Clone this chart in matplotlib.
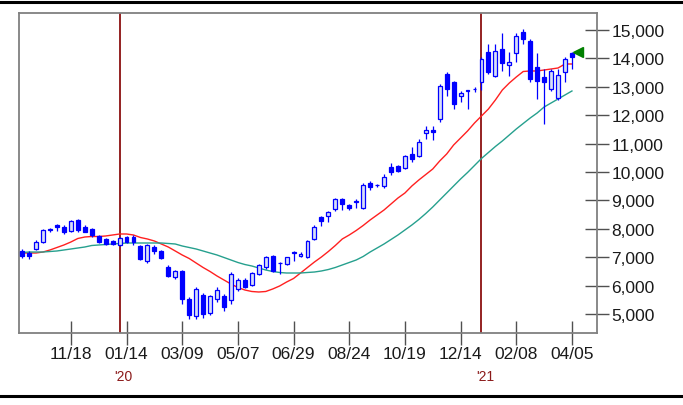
import matplotlib.pyplot as plt
from matplotlib.patches import Rectangle
from matplotlib.lines import Line2D
import numpy as np
import pandas as pd

# Weekly bars (week starting on Monday)
weeks = pd.date_range("2019-09-30", periods=80, freq="W-MON")

opens = [7200, 7150, 7290, 7530, 7950, 8150, 8060, 7920, 8300, 8050,
         7990, 7750, 7640, 7570, 7430, 7710, 7710, 7390, 6870, 7360,
         7220, 6640, 6290, 6520, 5530, 4930, 5670, 5030, 5530, 5630,
         5500, 5880, 6200, 6020, 6400, 6650, 7050, 6780, 6760, 7130,
         7050, 7000, 7640, 8410, 8440, 8700, 9050, 8840, 8950, 8720,
         9610, 9530, 9520, 10160, 10210, 10140, 10630, 10570, 11380, 11470,
         11860, 13450, 13160, 12660, 12860, 12910, 13160, 14210, 13380, 14330,
         13750, 14190, 14930, 14620, 13700, 13340, 12920, 12600, 13520, 14200]
highs = [7290, 7220, 7600, 8000, 8020, 8170, 8130, 8300, 8350, 8130,
         8030, 7780, 7680, 7600, 7700, 7740, 7780, 7430, 7460, 7430,
         7260, 6720, 6560, 6560, 5600, 5950, 5740, 5670, 5950, 5700,
         6480, 6260, 6250, 6480, 6760, 7050, 7070, 6830, 7020, 7230,
         7190, 7600, 8130, 8460, 8640, 9100, 9100, 8880, 9050, 9600,
         9690, 9580, 9930, 10330, 10260, 10600, 10880, 11160, 11630, 11630,
         13100, 13520, 13200, 12860, 12900, 12990, 14050, 14500, 14500, 14890,
         14210, 14890, 15030, 14680, 14200, 13620, 13620, 13620, 14050, 14220]
lows = [6970, 6950, 7250, 7500, 7870, 7930, 7820, 7880, 7900, 7870,
        7710, 7500, 7430, 7430, 7400, 7500, 7430, 6900, 6800, 7110,
        6940, 6300, 6230, 5350, 4820, 4820, 4860, 4960, 5420, 5100,
        5350, 5820, 5900, 5990, 6380, 6600, 6480, 6410, 6740, 6880,
        7000, 6970, 7600, 8110, 8240, 8640, 8660, 8670, 8730, 8690,
        9370, 9480, 9450, 9880, 9990, 10100, 10340, 10530, 11160, 11110,
        11760, 12670, 12220, 12460, 12220, 12810, 12900, 13450, 13340, 13560,
        13390, 13870, 14500, 13170, 12570, 11690, 12850, 12530, 13170, 13620]
closes = [7050, 7050, 7530, 7960, 7980, 8050, 7880, 8270, 7950, 7900,
          7780, 7530, 7460, 7470, 7680, 7530, 7530, 6940, 7430, 7220,
          6970, 6350, 6520, 5530, 4970, 5880, 5000, 5630, 5850, 5250,
          6400, 6200, 5950, 6440, 6720, 7000, 6510, 6800, 7000, 7180,
          7100, 7580, 8060, 8280, 8590, 9050, 8870, 8740, 8990, 9550,
          9460, 9550, 9810, 9990, 10030, 10560, 10460, 11040, 11480, 11420,
          13030, 12920, 12390, 12780, 12880, 12930, 13980, 13510, 14260, 13840,
          13870, 14790, 14680, 13270, 13200, 13170, 13550, 13410, 13980, 14050]

# 13-week and 26-week moving averages
ma13 = [7147, 7147, 7147, 7182, 7253, 7341, 7429, 7534, 7658, 7710,
        7728, 7728, 7746, 7781, 7816, 7816, 7781, 7693, 7640, 7570,
        7464, 7358, 7218, 7077, 6954, 6795, 6637, 6496, 6338, 6197,
        6056, 5933, 5845, 5792, 5774, 5792, 5880, 5986, 6126, 6250,
        6443, 6637, 6830, 7006, 7200, 7411, 7640, 7781, 7939, 8115,
        8309, 8485, 8661, 8872, 9083, 9259, 9506, 9717, 9910, 10104,
        10386, 10632, 10949, 11195, 11442, 11723, 11970, 12216, 12533, 12885,
        13131, 13342, 13536, 13554, 13554, 13589, 13624, 13659, 13800, 13800]
ma26 = [7165, 7182, 7182, 7182, 7200, 7218, 7253, 7288, 7323, 7358,
        7411, 7429, 7446, 7464, 7482, 7499, 7499, 7499, 7499, 7499,
        7499, 7482, 7464, 7394, 7341, 7288, 7218, 7147, 7077, 6989,
        6901, 6813, 6742, 6690, 6619, 6549, 6496, 6461, 6443, 6443,
        6443, 6461, 6478, 6514, 6566, 6637, 6725, 6813, 6901, 7024,
        7182, 7323, 7464, 7622, 7781, 7957, 8133, 8326, 8538, 8766,
        9013, 9259, 9506, 9752, 9981, 10227, 10474, 10685, 10896, 11090,
        11301, 11512, 11706, 11899, 12075, 12286, 12427, 12568, 12709, 12850]
last_price = 14220

tick_dates = ["2019-11-18", "2020-01-14", "2020-03-09", "2020-05-07", "2020-06-29",
              "2020-08-24", "2020-10-19", "2020-12-14", "2021-02-08", "2021-04-05"]
tick_labels = ["11/18", "01/14", "03/09", "05/07", "06/29",
               "08/24", "10/19", "12/14", "02/08", "04/05"]
y_ticks = np.arange(5000, 15001, 1000)

BLUE = "#0000ff"
HOLLOW = "#d8e0f6"

fig = plt.figure(figsize=(6.83, 4.06), dpi=100)
ax = fig.add_axes([19 / 683, 1 - 334 / 406, 578 / 683, 320 / 406])

x = np.arange(len(weeks))

# wicks then bodies
ax.vlines(x, lows, highs, color=BLUE, lw=0.9, zorder=3)
w = 0.56
for i in x:
    o, c = opens[i], closes[i]
    lo, hi = min(o, c), max(o, c)
    if hi - lo < 25:
        hi = lo + 25
    face = HOLLOW if c >= o else BLUE
    ax.add_patch(Rectangle((i - w / 2, lo), w, hi - lo, facecolor=face,
                           edgecolor=BLUE, lw=0.9, zorder=4))

ax.plot(x, ma13, color="#ff2020", lw=1.0, zorder=2)
ax.plot(x, ma26, color="#26a08e", lw=1.0, zorder=2)

# year boundary lines
years = weeks.year
year_idx = [i for i in range(1, len(weeks)) if years[i] != years[i - 1]]
for i in year_idx:
    ax.axvline(i, color="#8b1010", lw=1.3, zorder=1)
    ax.text(i + 0.6, -0.135, "'" + str(years[i])[2:], transform=ax.get_xaxis_transform(),
            ha="center", va="center", fontsize=10, color="#8b1a1a",
            family="Liberation Sans")

# last price marker
ax.plot(len(weeks) - 0.15, last_price, marker="<", color="#008000", ms=7,
        clip_on=False, zorder=5)

ax.set_xlim(-0.45, 82.6)
ax.set_ylim(4331, 15595)

tick_pos = [np.searchsorted(weeks, pd.Timestamp(d), side="right") - 1 for d in tick_dates]
ax.set_xticks(tick_pos)
ax.set_xticklabels(tick_labels)
ax.set_yticks(y_ticks)
ax.set_yticklabels([f"{v:,}" for v in y_ticks])
ax.yaxis.tick_right()

for lab in ax.get_xticklabels() + ax.get_yticklabels():
    lab.set_family("Liberation Sans")
ax.tick_params(axis="both", direction="inout", length=17, width=1.0,
               color="#505050", labelsize=12.5, labelcolor="#1a1a1a")
ax.tick_params(axis="x", pad=1)
ax.tick_params(axis="y", pad=2)

for sp in ax.spines.values():
    sp.set_color("#808080")
    sp.set_linewidth(1.3)

# black frame lines at top and bottom of the picture
fig.add_artist(Line2D([0, 1], [1 - 3 / 406] * 2, color="black", lw=2.2))
fig.add_artist(Line2D([0, 1], [1 - 397 / 406] * 2, color="black", lw=2.2))

fig.savefig("out.png", dpi=100)
